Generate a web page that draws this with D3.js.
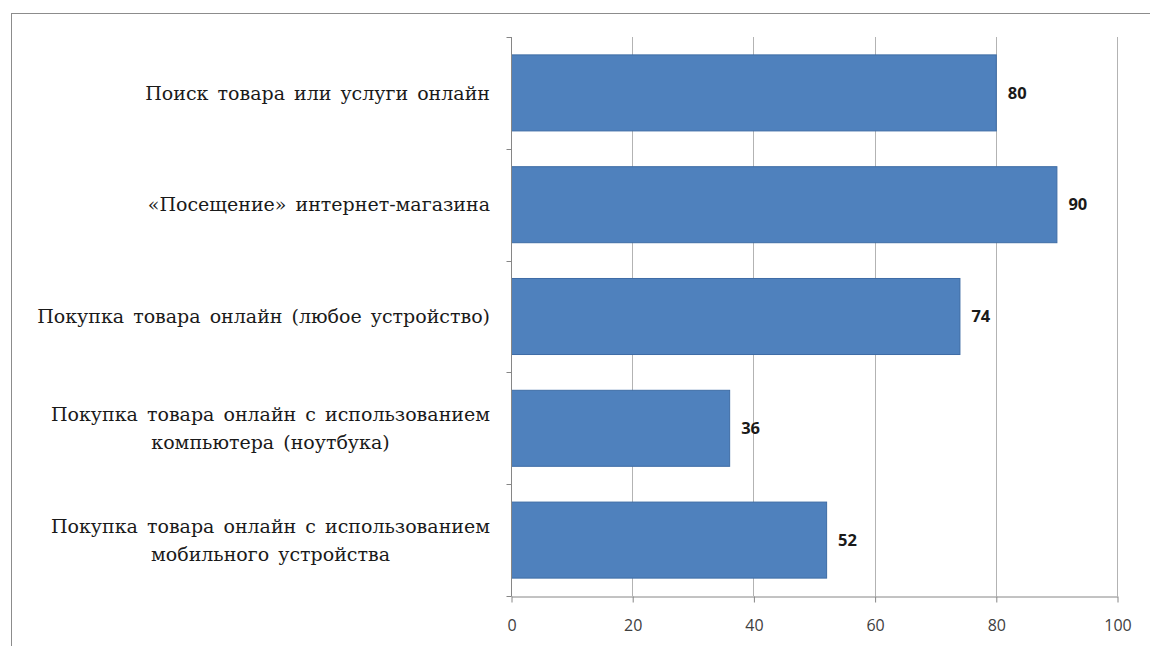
<!DOCTYPE html>
<html>
<head>
<meta charset="utf-8">
<script src="https://cdn.jsdelivr.net/npm/d3@7"></script>
<style>
  body { margin: 0; background: #fff; }
</style>
</head>
<body>
<div id="chart"></div>
<script>
const categories = [
  ["Поиск товара или услуги онлайн"],
  ["«Посещение» интернет-магазина"],
  ["Покупка товара онлайн (любое устройство)"],
  ["Покупка товара онлайн с использованием", "компьютера (ноутбука)"],
  ["Покупка товара онлайн с использованием", "мобильного устройства"]
];
const values = [80, 90, 74, 36, 52];
const xTicks = [0, 20, 40, 60, 80, 100];

const W = 1150, H = 646;
const margin = {top: 37, right: 33, bottom: 50, left: 511};
const width = W - margin.left - margin.right,
      height = H - margin.top - margin.bottom;

const svg = d3.select("#chart")
  .append("svg")
  .attr("width", W)
  .attr("height", H);

// outer chart frame
svg.append("rect")
  .attr("x", 11.5).attr("y", 13.5)
  .attr("width", W).attr("height", H)
  .attr("fill", "none")
  .attr("stroke", "#8c8c8c");

const g = svg.append("g")
  .attr("transform", `translate(${margin.left},${margin.top})`);

const x = d3.scaleLinear().domain([0, 100]).range([0, width]);
const y = d3.scaleBand()
  .domain(d3.range(categories.length))
  .range([0, height])
  .paddingInner(0.32)
  .paddingOuter(0.16);

// gridlines
g.selectAll(".grid")
  .data(xTicks.slice(1))
  .join("line")
  .attr("x1", d => Math.round(x(d)) + 0.5)
  .attr("x2", d => Math.round(x(d)) + 0.5)
  .attr("y1", 0).attr("y2", height)
  .attr("stroke", "#b3b3b3");

// bars
g.selectAll(".bar")
  .data(values)
  .join("rect")
  .attr("x", 0.5)
  .attr("y", (d, i) => y(i))
  .attr("width", d => x(d))
  .attr("height", y.bandwidth())
  .attr("fill", "#4f81bd")
  .attr("stroke", "#3e6ca5")
  .attr("stroke-width", 1);

// value labels
g.selectAll(".val")
  .data(values)
  .join("text")
  .attr("x", d => x(d) + 12)
  .attr("y", (d, i) => y(i) + y.bandwidth() / 2)
  .attr("dy", "0.35em")
  .style("font-family", "'Open Sans', 'Liberation Sans', sans-serif")
  .style("font-size", "16.5px")
  .style("font-weight", "bold")
  .style("fill", "#1a1a1a")
  .text(d => d);

// x axis
const xAxis = g.append("g")
  .attr("transform", `translate(0.5,${height + 0.5})`)
  .call(d3.axisBottom(x).tickValues(xTicks).tickSize(6).tickSizeOuter(0));
xAxis.select(".domain").attr("stroke", "#868686");
xAxis.selectAll(".tick line").attr("stroke", "#868686");
xAxis.selectAll("text")
  .attr("y", 23)
  .style("font-family", "'Open Sans', 'Liberation Sans', sans-serif")
  .style("font-size", "16px")
  .style("fill", "#404040");

// y axis (line + ticks between categories)
const step = height / categories.length;
const yAxis = g.append("g").attr("transform", "translate(0.5,0)");
yAxis.append("line")
  .attr("x1", 0).attr("x2", 0)
  .attr("y1", 0).attr("y2", height + 0.5)
  .attr("stroke", "#868686");
yAxis.selectAll(".ytick")
  .data(d3.range(categories.length + 1))
  .join("line")
  .attr("x1", -5).attr("x2", 0)
  .attr("y1", i => Math.round(i * step) + 0.5)
  .attr("y2", i => Math.round(i * step) + 0.5)
  .attr("stroke", "#868686");

// category labels (right aligned block, lines centred inside the block)
const labelRight = -21;
const lineH = 28;
categories.forEach((lines, i) => {
  const cy = y(i) + y.bandwidth() / 2;
  const t = g.append("text")
    .attr("font-family", "DejaVu Serif, serif")
    .attr("font-size", 19)
    .attr("word-spacing", 3)
    .attr("fill", "#1a1a1a")
    .attr("text-anchor", "middle");
  const spans = lines.map((s, k) => t.append("tspan")
    .attr("y", cy + (k - (lines.length - 1) / 2) * lineH)
    .attr("dy", "0.35em")
    .text(s));
  const maxW = d3.max(spans, s => s.node().getComputedTextLength());
  spans.forEach(s => s.attr("x", labelRight - maxW / 2));
});
</script>
</body>
</html>
